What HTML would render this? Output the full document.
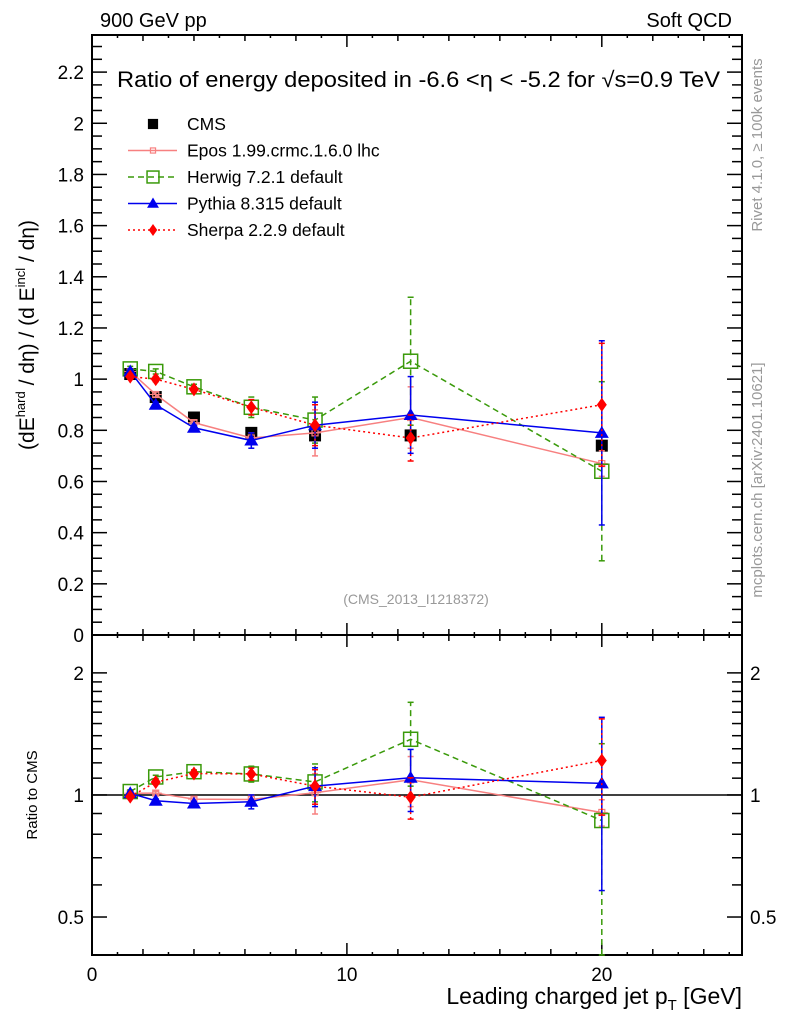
<!DOCTYPE html>
<html><head><meta charset="utf-8">
<style>
body{margin:0;background:#fff;width:786px;height:1024px;overflow:hidden}
svg{font-family:"Liberation Sans",sans-serif}
</style></head>
<body>
<svg id="c" width="786" height="1024" viewBox="0 0 786 1024" xmlns="http://www.w3.org/2000/svg"></svg>
<script>
const xVals=[1.5,2.5,4,6.25,8.75,12.5,20];
const cmsY=[1.02,0.93,0.85,0.79,0.78,0.78,0.74];
const eposY=[1.03,0.94,0.83,0.77,0.79,0.85,0.67];
const eposErr=[0.01,0.01,0.01,0.02,0.09,0.12,0.05];
const herwigY=[1.04,1.03,0.97,0.89,0.84,1.07,0.64];
const herwigErr=[0.01,0.01,0.01,0.04,0.09,0.25,0.35];
const pythiaY=[1.03,0.90,0.81,0.76,0.82,0.86,0.79];
const pythiaErr=[0.01,0.01,0.01,0.03,0.09,0.15,0.36];
const sherpaY=[1.01,1.00,0.96,0.89,0.82,0.77,0.90];
const sherpaErr=[0.01,0.01,0.01,0.03,0.08,0.09,0.24];
const mainTicks=[0,0.2,0.4,0.6,0.8,1,1.2,1.4,1.6,1.8,2,2.2];
const mainTickLabels=["0","0.2","0.4","0.6","0.8","1","1.2","1.4","1.6","1.8","2","2.2"];
const ratioTicks=[0.5,1,2];
const ratioTickLabels=["0.5","1","2"];
const xTicks=[0,10,20];
const xTickLabels=["0","10","20"];

const L=92,R=742,T=35,MB=635,RB=955;
const X0=0,X1=25.5,Y0=0,Y1=2.345,RL0=0.403,RL1=2.48;
const sx=v=>L+(v-X0)/(X1-X0)*(R-L);
const sy=v=>MB-(v-Y0)/(Y1-Y0)*(MB-T);
const sr=v=>RB-(Math.log(v)-Math.log(RL0))/(Math.log(RL1)-Math.log(RL0))*(RB-MB);
const svg=document.getElementById('c');
const NS="http://www.w3.org/2000/svg";
function el(tag,attrs,parent){const e=document.createElementNS(NS,tag);for(const k in attrs)e.setAttribute(k,attrs[k]);(parent||svg).appendChild(e);return e;}
function txt(s,attrs,parent){const e=el('text',attrs,parent);e.textContent=s;return e;}

let f=el('rect',{x:L,y:T,width:R-L,height:MB-T,fill:'none',stroke:'#000','stroke-width':2});

f=el('rect',{x:L,y:MB,width:R-L,height:RB-MB,fill:'none',stroke:'#000','stroke-width':2});


const gy=el('g',{});

for(let v=0;v<=2.3001;v+=0.05){const y=sy(v);const major=Math.abs(v/0.2-Math.round(v/0.2))<1e-6;const len=major?15:10;
 el('line',{x1:L,x2:L+len,y1:y,y2:y,stroke:'#000','stroke-width':1.5},gy);el('line',{x1:R,x2:R-len,y1:y,y2:y,stroke:'#000','stroke-width':1.5},gy);}
mainTicks.forEach((v,i)=>{const t=txt(mainTickLabels[i],{x:L-8,y:sy(v)+7,'text-anchor':'end','font-size':19},gy);
 });

const gr=el('g',{});

[0.5,0.6,0.7,0.8,0.9,1,1.1,1.2,1.3,1.4,1.5,1.6,1.7,1.8,1.9,2].forEach(v=>{const y=sr(v);const major=[0.5,1,2].includes(v);const len=major?15:10;
 el('line',{x1:L,x2:L+len,y1:y,y2:y,stroke:'#000','stroke-width':1.5},gr);el('line',{x1:R,x2:R-len,y1:y,y2:y,stroke:'#000','stroke-width':1.5},gr);});
ratioTicks.forEach((v,i)=>{let t=txt(ratioTickLabels[i],{x:L-8,y:sr(v)+7,'text-anchor':'end','font-size':19},gr);
 
 t=txt(ratioTickLabels[i],{x:R+8,y:sr(v)+7,'text-anchor':'start','font-size':19},gr);
 });
el('line',{x1:L,x2:R,y1:sr(1),y2:sr(1),stroke:'#000','stroke-width':1.5},gr);

const gx=el('g',{});

for(let v=0;v<=25;v+=1){const x=sx(v);const len=v%10===0?12:(v%2===0?6:3);
 [[T,1],[MB,-1],[MB,1],[RB,-1]].forEach(([y0,d])=>el('line',{x1:x,x2:x,y1:y0,y2:y0+d*len,stroke:'#000','stroke-width':1.5},gx));}
xTicks.forEach((v,i)=>{const t=txt(xTickLabels[i],{x:sx(v),y:RB+26,'text-anchor':'middle','font-size':19},gx);
 });

const series=[
 {name:'epos',y:eposY,e:eposErr,color:'#f78080',dash:'',marker:'cross'},
 {name:'herwig',y:herwigY,e:herwigErr,color:'#3a9a0a',dash:'6,4',marker:'opensq'},
 {name:'pythia',y:pythiaY,e:pythiaErr,color:'#0000ee',dash:'',marker:'tri'},
 {name:'sherpa',y:sherpaY,e:sherpaErr,color:'#ff0000',dash:'2,3',marker:'diamond'}
];
function marker(type,x,y,c,g,s){s=s||1;
 if(type==='sq')return el('rect',{x:x-6*s,y:y-6*s,width:12*s,height:12*s,fill:c},g);
 if(type==='opensq')return el('rect',{x:x-7*s,y:y-7*s,width:14*s,height:14*s,fill:'none',stroke:c,'stroke-width':1.5},g);
 if(type==='tri')return el('polygon',{points:`${x},${y-7*s} ${x-7*s},${y+5*s} ${x+7*s},${y+5*s}`,fill:c},g);
 if(type==='diamond')return el('polygon',{points:`${x},${y-7*s} ${x+5*s},${y} ${x},${y+7*s} ${x-5*s},${y}`,fill:c},g);
 if(type==='cross'){el('rect',{x:x-3*s,y:y-3*s,width:6*s,height:6*s,fill:'none',stroke:c,'stroke-width':1.2},g);return el('line',{x1:x-6*s,x2:x+6*s,y1:y,y2:y,stroke:c},g);}
}
function drawSeries(s,panel){
 const g=el('g',{});
 
 const yf=panel==='main'?sy:sr;
 const vals=panel==='main'?s.y:s.y.map((v,i)=>v/cmsY[i]);
 const errs=panel==='main'?s.e:s.e.map((v,i)=>v/cmsY[i]);
 const pts=xVals.map((x,i)=>`${sx(x)},${yf(vals[i])}`).join(' ');
 el('polyline',{points:pts,fill:'none',stroke:s.color,'stroke-width':1.5,'stroke-dasharray':s.dash},g);
 xVals.forEach((x,i)=>{const X=sx(x);const lo=Math.max(vals[i]-errs[i],panel==='main'?0.001:RL0);
  el('line',{x1:X,x2:X,y1:yf(lo),y2:yf(vals[i]+errs[i]),stroke:s.color,'stroke-width':1.5,'stroke-dasharray':s.dash},g);
  el('line',{x1:X-3,x2:X+3,y1:yf(lo),y2:yf(lo),stroke:s.color,'stroke-width':1.5},g);
  el('line',{x1:X-3,x2:X+3,y1:yf(vals[i]+errs[i]),y2:yf(vals[i]+errs[i]),stroke:s.color,'stroke-width':1.5},g);
  const m=marker(s.marker,X,yf(vals[i]),s.color,g);
  });
}
const gc=el('g',{});

xVals.forEach((x,i)=>{const m=marker('sq',sx(x),sy(cmsY[i]),'#000',gc);
 });
series.forEach(s=>{drawSeries(s,'main');drawSeries(s,'ratio');});

const lg=el('g',{});

const legItems=[{label:'CMS',c:'#000',m:'sq',dash:null},{label:'Epos 1.99.crmc.1.6.0 lhc',c:'#f78080',m:'cross',dash:''},
 {label:'Herwig 7.2.1 default',c:'#3a9a0a',m:'opensq',dash:'6,4'},{label:'Pythia 8.315 default',c:'#0000ee',m:'tri',dash:''},
 {label:'Sherpa 2.2.9 default',c:'#ff0000',m:'diamond',dash:'2,3'}];
legItems.forEach((it,i)=>{const y=124+i*26.5;const g=el('g',{},lg);
 
 if(it.dash!==null)el('line',{x1:128,x2:177,y1:y,y2:y,stroke:it.c,'stroke-width':1.5,'stroke-dasharray':it.dash},g);
 marker(it.m,153,y,it.c,g,0.85);
 txt(it.label,{x:187,y:y+6,'font-size':17.5},g);});

let t;
t=txt('900 GeV pp',{x:100,y:27,'font-size':20});
t=txt('Soft QCD',{x:732,y:27,'font-size':20,'text-anchor':'end'});
t=txt('',{x:117,y:87,'font-size':22,textLength:603,lengthAdjust:'spacingAndGlyphs'});
t.innerHTML='Ratio of energy deposited in -6.6 &lt;η &lt; -5.2 for √s=0.9 TeV';
t=txt('(CMS_2013_I1218372)',{x:416,y:604,'font-size':14,fill:'#999','text-anchor':'middle'});
t=el('text',{x:0,y:0,'font-size':21,transform:'translate(34,335) rotate(-90)','text-anchor':'middle'});
t.innerHTML='(dE<tspan font-size="13" dy="-9">hard</tspan><tspan dy="9"> / dη) / (d E</tspan><tspan font-size="13" dy="-9">incl</tspan><tspan dy="9"> / dη)</tspan>';

t=txt('Ratio to CMS',{x:0,y:0,'font-size':15,transform:'translate(37,795) rotate(-90)','text-anchor':'middle'});
t=el('text',{x:742,y:1004,'font-size':23,'text-anchor':'end'});
t.innerHTML='Leading charged jet p<tspan font-size="15" dy="6">T</tspan><tspan dy="-6"> [GeV]</tspan>';

t=txt('Rivet 4.1.0, ≥ 100k events',{x:0,y:0,'font-size':15,fill:'#999',transform:'translate(762,145) rotate(-90)','text-anchor':'middle'});
t=txt('mcplots.cern.ch [arXiv:2401.10621]',{x:0,y:0,'font-size':15,fill:'#999',transform:'translate(762,480) rotate(-90)','text-anchor':'middle'});
</script>
</body></html>
